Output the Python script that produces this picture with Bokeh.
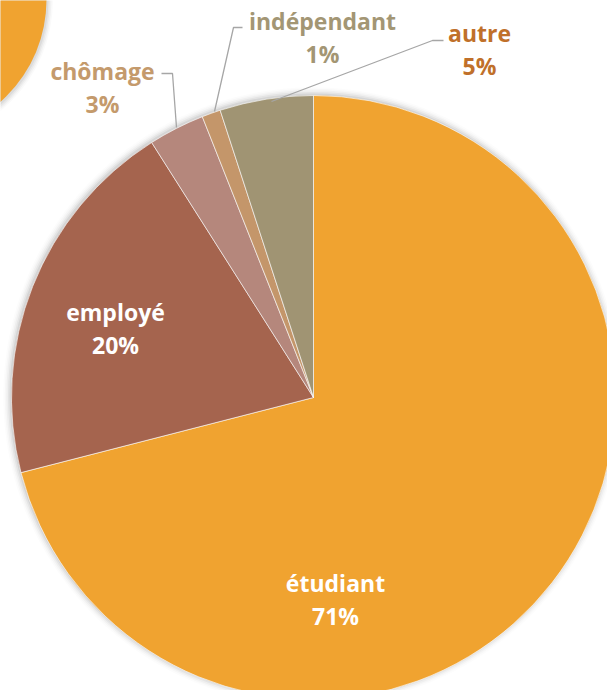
import numpy as np
from bokeh.plotting import figure
from bokeh.models import Range1d, ColumnDataSource
from bokeh.core.properties import value
from bokeh.embed import file_html
from bokeh.resources import INLINE

# ---- data ----
categories = ["étudiant", "employé", "chômage", "indépendant", "autre"]
values = [71, 20, 3, 1, 5]
slice_colors = ["#F0A330", "#A5644E", "#B5877C", "#C4966A", "#A09473"]
label_colors = ["#FFFFFF", "#FFFFFF", "#C49A6C", "#A39674", "#C0702A"]

# ---- layout (pixel coords, origin at top-left of the plot) ----
PW, PH = 607, 690
def Y(ys):
    return PH - ys

cx, cy, R = 313, 397, 302
# label anchor points (name line)
label_pos = [(335, 582), (115, 311), (102, 70), (322, 20), (479, 32)]
line_gap = 33
# leader lines
leaders = {
    "chômage": [(161, 73), (172, 73), (176, 127)],
    "indépendant": [(242, 27), (233, 27), (214, 111)],
    "autre": [(443, 40), (432, 40), (271, 101)],
}

p = figure(width=PW, height=PH, x_range=Range1d(0, PW), y_range=Range1d(0, PH),
           x_axis_type=None, y_axis_type=None, toolbar_location=None,
           output_backend="svg", min_border=0, outline_line_color=None,
           background_fill_color="white", border_fill_color="white")
p.grid.visible = False

# decorative circle top-left with soft shadow
dcx, dcy, dr = -91, -1, 137
for i, a in enumerate([0.05, 0.04, 0.03, 0.02]):
    p.circle(x=[dcx + 1], y=[Y(dcy + 1)], radius=dr + 1 + i * 1.5, fill_color="black",
             fill_alpha=a, line_color=None)
p.circle(x=[dcx], y=[Y(dcy)], radius=dr, fill_color="#F0A330", line_color=None)

# pie shadow
for i, a in enumerate([0.06, 0.045, 0.03, 0.02, 0.012]):
    p.circle(x=[cx - 1], y=[Y(cy - 1)], radius=R + 1 + i * 1.6, fill_color="black",
             fill_alpha=a, line_color=None)

# wedges (clockwise from 12 o'clock)
vals = np.array(values, dtype=float)
frac = vals / vals.sum()
cum = np.concatenate([[0], np.cumsum(frac)])
start = np.pi / 2 - 2 * np.pi * cum[:-1]
end = np.pi / 2 - 2 * np.pi * cum[1:]
src = ColumnDataSource(dict(start=start, end=end, color=slice_colors, cat=categories))
p.wedge(x=cx, y=Y(cy), radius=R, start_angle="start", end_angle="end", direction="clock",
        fill_color="color", line_color="white", line_width=0.6, source=src)

# leader lines
for pts in leaders.values():
    p.line(x=[q[0] for q in pts], y=[Y(q[1]) for q in pts], line_color="#A6A6A6", line_width=1.3)

# labels
names_x = [q[0] for q in label_pos]
names_y = [Y(q[1]) for q in label_pos]
pct_y = [Y(q[1] + line_gap) for q in label_pos]
pcts = [f"{v}%" for v in values]
lsrc = ColumnDataSource(dict(x=names_x, y=names_y, y2=pct_y, name=categories, pct=pcts, c=label_colors))
for col, ycol in (("name", "y"), ("pct", "y2")):
    p.text(x="x", y=ycol, text=col, text_color="c", source=lsrc, text_align="center",
           text_baseline="middle", text_font=value("Open Sans"), text_font_style="bold",
           text_font_size="23px")

open("out.html", "w").write(file_html(p, INLINE))
